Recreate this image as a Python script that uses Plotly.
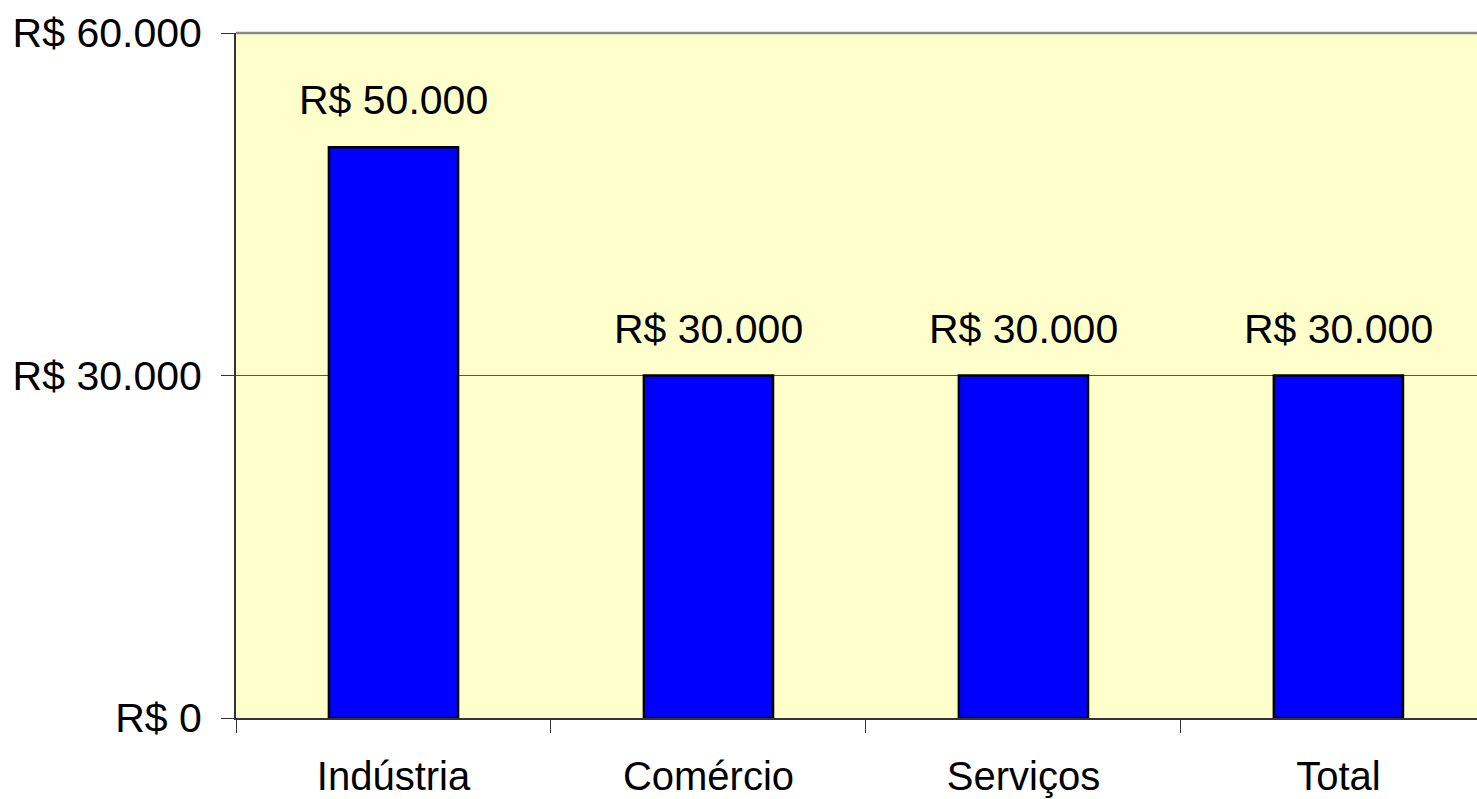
import plotly.graph_objects as go

categories = ["Indústria", "Comércio", "Serviços", "Total"]
values = [50000, 30000, 30000, 30000]
value_labels = ["R$ 50.000", "R$ 30.000", "R$ 30.000", "R$ 30.000"]
y_tickvals = [0, 30000, 60000]
y_ticktext = ["R$ 0", "R$ 30.000", "R$ 60.000"]

FONT = "Liberation Sans, Arial, sans-serif"

fig = go.Figure()
fig.add_trace(go.Bar(
    x=categories, y=values, width=0.41,
    marker=dict(color="#0000FF", line=dict(color="#000000", width=2.5)),
    hoverinfo="skip",
))

for c, v, t in zip(categories, values, value_labels):
    fig.add_annotation(x=c, y=v, text=t, showarrow=False, yanchor="bottom",
                       yshift=22, font=dict(family=FONT, size=41, color="#000000"))

fig.update_layout(
    width=1477, height=799,
    margin=dict(l=236, r=0, t=33, b=81),
    paper_bgcolor="#FFFFFF", plot_bgcolor="#FFFFCC",
    showlegend=False,
    font=dict(family=FONT, size=40, color="#000000"),
)
fig.update_xaxes(
    type="category", range=[-0.5, 3.44], tickson="boundaries",
    ticks="outside", ticklen=13, tickwidth=1, tickcolor="#333333",
    showline=True, linecolor="#333333", linewidth=2,
    showgrid=False, ticklabelstandoff=22,
    tickfont=dict(family=FONT, size=40, color="#000000"),
)
fig.update_yaxes(
    range=[0, 60000], tickvals=y_tickvals, ticktext=y_ticktext,
    ticks="outside", ticklen=13, tickwidth=1, tickcolor="#333333",
    showline=True, linecolor="#333333", linewidth=2,
    showgrid=True, gridcolor="#555555", gridwidth=1,
    zeroline=False, ticklabelstandoff=11,
    tickfont=dict(family=FONT, size=41, color="#000000"),
)
fig.add_shape(type="line", xref="paper", yref="paper", x0=0, x1=1, y0=1, y1=1,
              line=dict(color="#888888", width=2.5))

fig.write_html(
    "out.html",
    config={"displayModeBar": False},
    post_script="document.body.style.margin='0';document.body.style.overflow='hidden';",
)
